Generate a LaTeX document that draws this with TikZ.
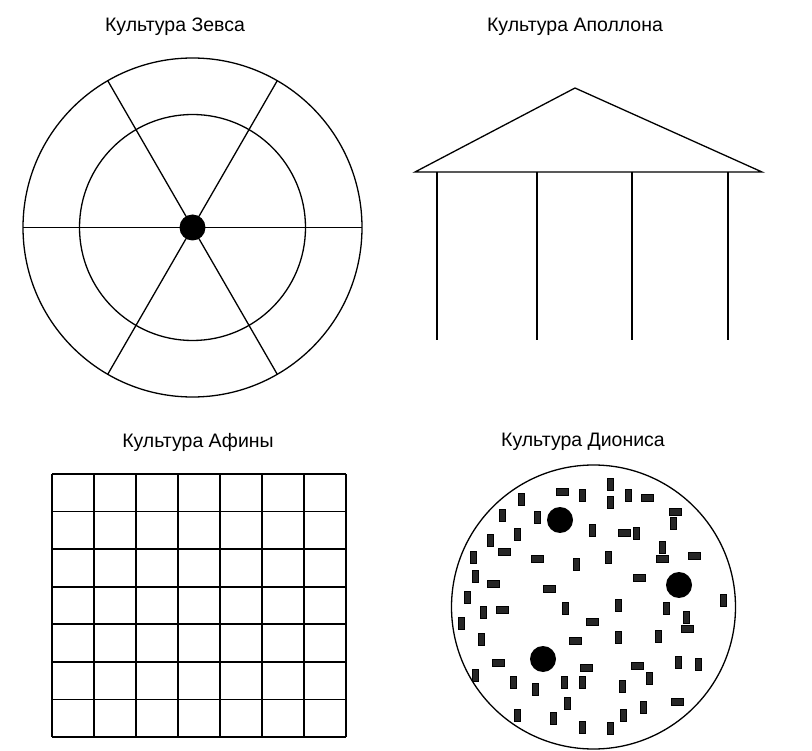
\documentclass[tikz,border=0pt]{standalone}
\usepackage{fontspec}
\setmainfont{Liberation Sans}
\begin{document}
\begin{tikzpicture}[x=1pt,y=-1pt,
  title/.style={font=\fontsize{19.5}{22}\selectfont, inner sep=0pt},
  thin line/.style={line width=1.3pt},
  grid line/.style={line width=1.8pt},
  bigdot/.style={circle, fill=black, inner sep=0pt, minimum size=26pt},
  vbit/.style={fill=black!85, draw=black, line width=0.5pt},
]
\useasboundingbox (0,0) rectangle (812,751);
\fill[white] (0,0) rectangle (812,751);

% ---------- Zeus ----------
\node[title] (tz) at (175,27) {Культура Зевса};
\coordinate (zc) at (192.5,227.5);
\draw[thin line] (zc) circle[radius=169.5pt];
\draw[thin line] (zc) circle[radius=113pt];
\foreach \a in {0,60,120,180,240,300}
  \draw[thin line] (zc) -- ++(\a:169.5pt);
\node[bigdot] (zdot) at (zc) {};

% ---------- Apollo ----------
\node[title] (ta) at (575,27) {Культура Аполлона};
\coordinate (apex) at (575,88);
\coordinate (bl) at (415,172);
\coordinate (br) at (762,172);
\draw[thin line, line join=miter] (bl) -- (apex) -- (br) -- cycle;
\foreach \x in {437,537,632,728}
  \draw[grid line] (\x,172) -- (\x,340);

% ---------- Athena ----------
\node[title] (tf) at (198,442) {Культура Афины};
\foreach \i in {0,...,7}
  \draw[grid line] ({52+\i*42},474) -- ({52+\i*42},737);
\foreach \j in {0,...,7}
  \draw[grid line] (52,{474+\j*37.57}) -- (346,{474+\j*37.57});

% ---------- Dionysus ----------
\node[title] (td) at (583,442) {Культура Диониса};
\coordinate (dc) at (593.5,607);
\draw[thin line] (dc) circle[radius=142pt];
\node[bigdot] (d1) at (560,520) {};
\node[bigdot] (d2) at (679,585) {};
\node[bigdot] (d3) at (543,659) {};
% vertical bits
\foreach \x/\y in {582/495,610/484,610/502,521/499,502/515,537/517,592/530,517/534,490/540,
  473/557,576/564,608/557,475/576,467/597,565/608,628/495,673/523,636/533,662/547,723/600,
  618/605,666/608,483/612,461/623,481/639,618/637,475/675,513/682,535/689,564/682,582/682,
  567/703,517/715,553/718,582/727,610/728,686/617,658/636,678/662,698/664,649/678,622/686,
  643/707,623/715}
  \filldraw[vbit] ({\x-3},{\y-6}) rectangle ({\x+3},{\y+6});
% horizontal bits
\foreach \x/\y in {562/492,504/552,537/559,493/584,549/589,502/610,647/498,675/512,624/533,
  662/559,694/556,639/578,592/622,575/641,498/663,586/668,687/629,637/666,677/702}
  \filldraw[vbit] ({\x-6},{\y-3.5}) rectangle ({\x+6},{\y+3.5});
\end{tikzpicture}
\end{document}
